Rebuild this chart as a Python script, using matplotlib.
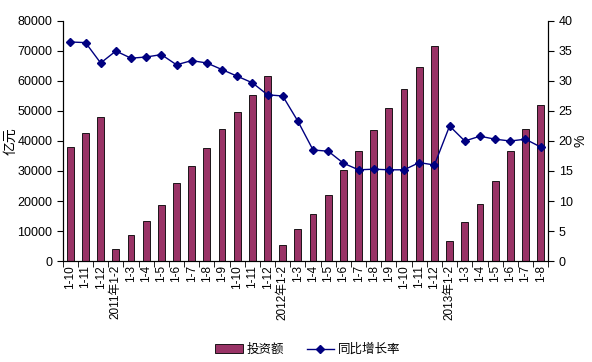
import matplotlib
matplotlib.use("Agg")

import numpy as np
import matplotlib.pyplot as plt

plt.rcParams["font.family"] = ["Liberation Sans", "Noto Sans CJK SC", "DejaVu Sans"]

# ---------------------------------------------------------------
# Data
# ---------------------------------------------------------------
categories = ["1-10", "1-11", "1-12", "2011年1-2", "1-3", "1-4", "1-5", "1-6",
              "1-7", "1-8", "1-9", "1-10", "1-11", "1-12", "2012年1-2", "1-3",
              "1-4", "1-5", "1-6", "1-7", "1-8", "1-9", "1-10", "1-11", "1-12",
              "2013年1-2", "1-3", "1-4", "1-5", "1-6", "1-7", "1-8"]

investment = [38000, 42600, 47900, 4000, 8600, 13300, 18600, 25900,
              31700, 37600, 43900, 49600, 55200, 61600, 5300, 10600,
              15600, 21900, 30300, 36700, 43700, 51000, 57400, 64700, 71800,
              6600, 12900, 18900, 26600, 36700, 44000, 52000]

growth = [36.5, 36.4, 33.0, 35.0, 33.8, 34.0, 34.4, 32.7,
          33.4, 33.0, 31.9, 30.8, 29.7, 27.7, 27.5, 23.3,
          18.5, 18.3, 16.3, 15.2, 15.3, 15.2, 15.2, 16.4, 16.0,
          22.5, 20.0, 20.8, 20.3, 20.0, 20.3, 19.0]

BAR_COLOR = "#993366"
LINE_COLOR = "#000080"

# ---------------------------------------------------------------
# Plot
# ---------------------------------------------------------------
fig = plt.figure(figsize=(5.92, 3.62), dpi=100)
ax = fig.add_axes([0.106, 0.279, 0.820, 0.663])
ax2 = ax.twinx()

x = np.arange(len(categories))
bars = ax.bar(x, investment, width=0.45, color=BAR_COLOR, edgecolor="black",
              linewidth=0.6, label="投资额", zorder=2)
line, = ax2.plot(x, growth, color=LINE_COLOR, marker="D", markersize=4.5,
                 linewidth=1.0, label="同比增长率", zorder=3)

ax.set_xlim(-0.5, len(categories) - 0.5)
ax.set_ylim(0, 80000)
ax.set_yticks(np.arange(0, 80001, 10000))
ax2.set_ylim(0, 40)
ax2.set_yticks(np.arange(0, 41, 5))

ax.set_xticks(x)
ax.set_xticklabels(categories, rotation=90, fontsize=8.5)
ax.set_xticks(np.arange(-0.5, len(categories), 1), minor=True)
ax.tick_params(axis="x", which="major", length=0, pad=3)
ax.tick_params(axis="x", which="minor", length=4, direction="out")
ax.tick_params(axis="y", labelsize=9, length=4, direction="out")
ax2.tick_params(axis="y", labelsize=9, length=4, direction="out")

for a in (ax, ax2):
    a.spines["top"].set_visible(False)

ax.set_ylabel("亿元", fontsize=10, labelpad=0)
ax2.set_ylabel("%", fontsize=10, labelpad=1)

fig.legend(handles=[bars, line], labels=["投资额", "同比增长率"],
           loc="lower center", bbox_to_anchor=(0.52, -0.015), ncol=2,
           frameon=False, fontsize=9, handlelength=2.2, handletextpad=0.3,
           columnspacing=1.8)

fig.savefig("out.png", dpi=100)
